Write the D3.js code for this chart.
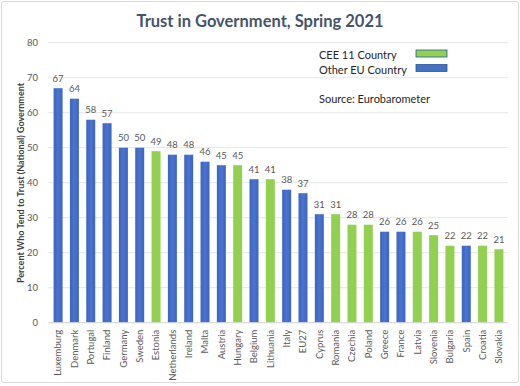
<!DOCTYPE html>
<html><head><meta charset="utf-8">
<script src="https://cdn.jsdelivr.net/npm/d3@7"></script>
<style>body{margin:0;background:#fff;} svg{display:block;font-family:Lato,"Open Sans",sans-serif;}</style>
</head><body>
<svg id="c" width="520" height="386"></svg>
<script>
const countries = ["Luxemburg","Denmark","Portugal","Finland","Germany","Sweden","Estonia","Netherlands","Ireland","Malta","Austria","Hungary","Belgium","Lithuania","Italy","EU27","Cyprus","Romania","Czechia","Poland","Greece","France","Latvia","Slovenia","Bulgaria","Spain","Croatia","Slovakia"];
const trust = [67,64,58,57,50,50,49,48,48,46,45,45,41,41,38,37,31,31,28,28,26,26,26,25,22,22,22,21];
const cee = [0,0,0,0,0,0,1,0,0,0,0,1,0,1,0,0,0,1,1,1,0,0,1,1,1,0,1,1];
const yTicks = [0,10,20,30,40,50,60,70,80];
const legendLabels = ["CEE 11 Country","Other EU Country"];

const svg = d3.select("#c");
const green = "#92D050";
const defs = svg.append("defs");
const g1 = defs.append("linearGradient").attr("id","gb").attr("x1",0).attr("x2",1).attr("y1",0).attr("y2",0);
g1.append("stop").attr("offset","0%").attr("stop-color","#3C64C0");
g1.append("stop").attr("offset","50%").attr("stop-color","#4A74D0");
g1.append("stop").attr("offset","100%").attr("stop-color","#3C64C0");

svg.append("rect").attr("x",1.5).attr("y",1.5).attr("width",517).attr("height",381)
  .attr("fill","#fff").attr("stroke","#D9D9D9").attr("rx",2);

const x = d3.scaleBand().domain(countries).range([50,507]).paddingInner(0.45).paddingOuter(0.22);
const y = d3.scaleLinear().domain([0,80]).range([322.7,42.7]);

// gridlines
svg.append("g").selectAll("line").data(yTicks).join("line")
  .attr("x1",48).attr("x2",508).attr("y1",d=>y(d)).attr("y2",d=>y(d))
  .attr("stroke","#E6E6E6").attr("stroke-width",1);

// y tick labels
const yAxis = d3.axisLeft(y).tickValues(yTicks).tickSize(0).tickPadding(0);
const ya = svg.append("g").attr("transform","translate(38,0)").call(yAxis);
ya.select(".domain").remove();
ya.selectAll("text").attr("fill","#595959").attr("font-size",9.5).attr("font-family","Lato,'Open Sans',sans-serif");

// bars
svg.append("g").selectAll("rect").data(countries).join("rect")
  .attr("x",d=>x(d)).attr("width",x.bandwidth())
  .attr("y",(d,i)=>y(trust[i])).attr("height",(d,i)=>y(0)-y(trust[i]))
  .attr("fill",(d,i)=>cee[i]?green:"url(#gb)");

// baseline
svg.append("line").attr("x1",48).attr("x2",508).attr("y1",y(0)).attr("y2",y(0)).attr("stroke","#D9D9D9");

// value labels
svg.append("g").selectAll("text").data(countries).join("text")
  .attr("x",d=>x(d)+x.bandwidth()/2).attr("y",(d,i)=>y(trust[i])-6.5)
  .attr("text-anchor","middle").attr("font-size",9.5).attr("fill","#595959")
  .text((d,i)=>trust[i]);

// x labels
const xAxis = d3.axisBottom(x).tickSize(0).tickPadding(0);
const xa = svg.append("g").attr("transform",`translate(0,${y(0)})`).call(xAxis);
xa.select(".domain").remove();
xa.selectAll("text").attr("fill","#595959").attr("font-size",9.5).attr("font-family","Lato,'Open Sans',sans-serif")
  .attr("text-anchor","end").attr("dy","0.35em").attr("transform","translate(0,7) rotate(-90)").attr("y",0).attr("x",0);

// title
svg.append("text").attr("x",260).attr("y",27).attr("text-anchor","middle")
  .attr("font-size",16.5).attr("font-weight","bold").attr("fill","#44546A").text("Trust in Government, Spring 2021");

// y title
svg.append("text").attr("transform","translate(24,183) rotate(-90)").attr("text-anchor","middle")
  .attr("font-size",9).attr("font-weight","bold").attr("fill","#404040")
  .text("Percent Who Tend to Trust (National) Government");

// legend
const lg = svg.append("g");
legendLabels.forEach((t,i)=>{
  lg.append("text").attr("x",319).attr("y",59+i*14.5).attr("font-size",11).attr("fill","#262626").text(t);
  lg.append("rect").attr("x",416).attr("y",50+i*14.5).attr("width",31).attr("height",7)
    .attr("fill",i===0?green:"#4472C4").attr("stroke","#2F5597").attr("stroke-width",0.8);
});
lg.append("text").attr("x",319).attr("y",103).attr("font-size",11).attr("fill","#262626").text("Source: Eurobarometer");
</script>
</body></html>
